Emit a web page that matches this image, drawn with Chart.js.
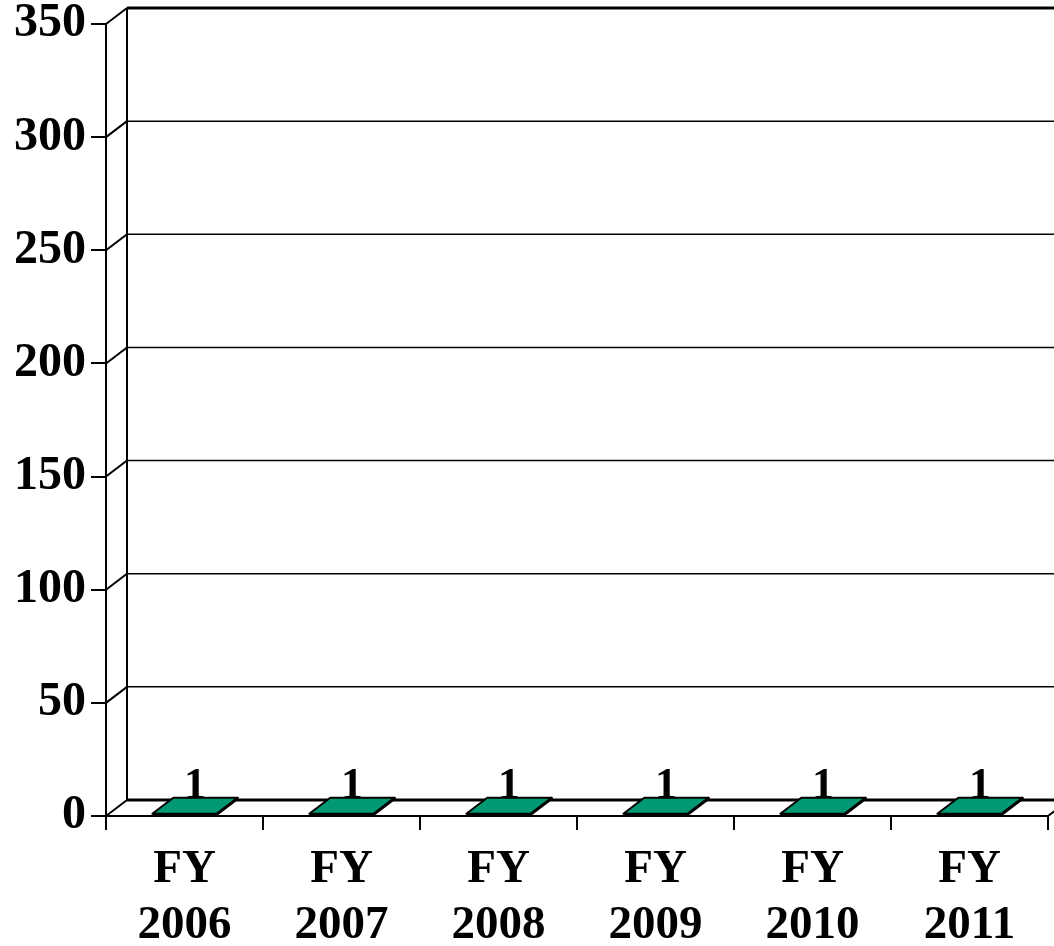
<!DOCTYPE html>
<html>
<head>
<meta charset="utf-8">
<script src="https://cdn.jsdelivr.net/npm/chart.js@4"></script>
<style>
  html, body { margin: 0; padding: 0; background: #fff; }
  canvas { display: block; }
</style>
</head>
<body>
<canvas id="fyChart" width="1054" height="946"></canvas>
<script>
const categories = [['FY', '2006'], ['FY', '2007'], ['FY', '2008'], ['FY', '2009'], ['FY', '2010'], ['FY', '2011']];
const values = [1, 1, 1, 1, 1, 1];
const yMax = 350;
const yStep = 50;

// depth of the pseudo-3D box (back wall offset)
const DX = 21;
const DY = -16;
const BAR_GREEN = '#009973';
const SERIF = '"Liberation Serif", "Times New Roman", serif';

const wallPlugin = {
  id: 'wall3d',
  beforeDatasetsDraw(chart) {
    const ctx = chart.ctx;
    const y = chart.scales.y;
    const area = chart.chartArea;
    const right = chart.width;
    ctx.save();
    ctx.strokeStyle = '#000';
    // back wall gridlines + diagonals to the front axis
    y.ticks.forEach(t => {
      const py = y.getPixelForValue(t.value);
      const edge = t.value === 0 || t.value === yMax;
      ctx.lineWidth = edge ? 3 : 1.5;
      ctx.beginPath();
      ctx.moveTo(area.left + DX, py + DY);
      ctx.lineTo(right, py + DY);
      ctx.stroke();
      ctx.lineWidth = 2;
      ctx.beginPath();
      ctx.moveTo(area.left, py);
      ctx.lineTo(area.left + DX, py + DY);
      ctx.stroke();
    });
    // left edge of back wall
    ctx.lineWidth = 2;
    ctx.beginPath();
    ctx.moveTo(area.left + DX, y.getPixelForValue(yMax) + DY);
    ctx.lineTo(area.left + DX, y.getPixelForValue(0) + DY);
    ctx.stroke();
    // right edge of the floor
    ctx.beginPath();
    ctx.moveTo(area.right, area.bottom);
    ctx.lineTo(area.right + DX, area.bottom + DY);
    ctx.stroke();
    ctx.restore();
  },
  afterDatasetsDraw(chart) {
    const ctx = chart.ctx;
    const meta = chart.getDatasetMeta(0);
    ctx.save();
    ctx.strokeStyle = '#000';
    ctx.lineWidth = 2;
    ctx.lineJoin = 'round';
    meta.data.forEach((bar, i) => {
      const { x, y, base, width } = bar.getProps(['x', 'y', 'base', 'width'], true);
      const l = x - width / 2, r = x + width / 2;
      ctx.fillStyle = BAR_GREEN;
      // top face
      ctx.beginPath();
      ctx.moveTo(l, y);
      ctx.lineTo(r, y);
      ctx.lineTo(r + DX, y + DY);
      ctx.lineTo(l + DX, y + DY);
      ctx.closePath();
      ctx.fill();
      ctx.stroke();
      // side face
      ctx.beginPath();
      ctx.moveTo(r, y);
      ctx.lineTo(r + DX, y + DY);
      ctx.lineTo(r + DX, base + DY);
      ctx.lineTo(r, base);
      ctx.closePath();
      ctx.fill();
      ctx.stroke();
      // value label
      ctx.fillStyle = '#000';
      ctx.font = 'bold 44px ' + SERIF;
      ctx.textAlign = 'center';
      ctx.textBaseline = 'alphabetic';
      ctx.fillText(String(values[i]), x + DX / 2, y + DY);
    });
    ctx.restore();
  }
};

new Chart(document.getElementById('fyChart'), {
  type: 'bar',
  data: {
    labels: categories,
    datasets: [{
      data: values,
      backgroundColor: BAR_GREEN,
      borderColor: '#000',
      borderWidth: 2,
      borderSkipped: false,
      categoryPercentage: 1,
      barPercentage: 0.41
    }]
  },
  options: {
    responsive: false,
    animation: false,
    layout: { padding: { top: 24, right: 6, left: 0, bottom: 0 } },
    plugins: {
      legend: { display: false },
      tooltip: { enabled: false }
    },
    scales: {
      x: {
        grid: { drawOnChartArea: false, drawTicks: true, tickLength: 14, color: '#000', lineWidth: 2, offset: true },
        border: { color: '#000', width: 2 },
        ticks: {
          color: '#000',
          padding: 12,
          maxRotation: 0,
          autoSkip: false,
          font: { family: SERIF, size: 47, weight: 'bold', lineHeight: 1.19 }
        },
        afterFit(s) { s.height = 130; s.paddingLeft = 0; s.paddingRight = 0; }
      },
      y: {
        min: 0,
        max: yMax,
        grid: { drawOnChartArea: false, drawTicks: true, tickLength: 15, color: '#000', lineWidth: 2 },
        border: { color: '#000', width: 2 },
        ticks: {
          stepSize: yStep,
          color: '#000',
          padding: 5,
          font: { family: SERIF, size: 48, weight: 'bold' }
        },
        afterFit(s) { s.width = 106; s.paddingTop = 0; s.paddingBottom = 0; }
      }
    }
  },
  plugins: [wallPlugin]
});
</script>
</body>
</html>
